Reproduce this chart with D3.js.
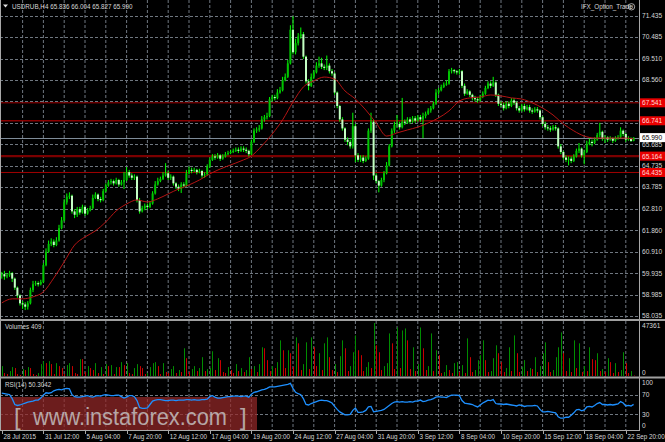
<!DOCTYPE html>
<html><head><meta charset="utf-8">
<script src="https://cdnjs.cloudflare.com/ajax/libs/d3/7.8.5/d3.min.js"></script>
<style>html,body{margin:0;padding:0;background:#000;overflow:hidden}svg{display:block}</style>
</head><body><svg id="c" width="665" height="442"></svg>
<script>
// ---------- DATA ----------
const symbolTitle = "USDRUB,H4 65.836 66.004 65.827 65.990";
const expertName = "IFX_Option_Trade";
const firstOpen = 59.85;
const closes = [
59.90,59.80,59.85,59.95,59.70,59.30,58.95,58.60,58.55,58.45,
58.60,59.20,59.45,59.50,59.45,59.55,60.30,60.90,61.25,61.35,
61.20,61.40,61.95,62.30,63.10,63.35,63.40,62.70,62.55,62.80,
62.65,62.90,62.60,62.75,62.85,63.30,63.45,63.25,63.20,63.60,
63.85,64.00,64.05,63.95,64.10,63.90,64.00,64.10,64.45,64.30,
64.20,64.25,63.20,62.70,62.85,62.95,62.90,63.05,63.50,63.90,
64.05,64.15,64.30,64.40,64.20,64.25,63.95,63.80,63.70,63.90,
63.85,64.40,64.55,64.50,64.55,64.45,64.50,64.30,64.35,64.70,
65.00,65.15,65.10,65.20,65.05,65.15,65.25,65.30,65.35,65.40,
65.45,65.40,65.50,65.45,65.40,65.25,65.80,66.30,66.35,66.40,
66.80,66.90,66.95,67.70,67.80,67.75,68.00,68.10,68.55,68.70,
69.30,70.80,69.80,70.20,70.50,70.60,69.60,68.50,68.30,68.70,
68.90,69.20,69.30,69.15,69.10,69.20,68.95,68.85,68.00,67.40,
66.80,66.40,65.90,65.80,65.60,66.50,65.20,65.00,65.10,64.95,
65.05,66.30,66.70,64.30,64.05,63.85,64.10,64.40,64.75,65.60,
66.30,66.55,66.60,66.45,66.70,66.65,66.80,66.70,66.85,66.75,
66.90,66.80,66.95,67.05,67.20,67.30,67.50,68.00,68.10,68.25,
68.35,68.40,68.95,69.00,68.95,68.90,68.95,68.30,67.95,68.05,
67.90,67.75,67.70,67.65,67.80,67.95,68.20,68.40,68.30,68.45,
67.90,67.50,67.45,67.30,67.50,67.40,67.65,67.55,67.30,67.20,
67.40,67.25,67.35,67.20,67.15,67.25,67.20,66.90,66.60,66.45,
66.40,66.35,66.45,66.40,65.60,65.35,65.10,65.00,65.05,64.95,
65.15,65.40,65.50,65.20,65.35,65.70,65.80,65.75,65.90,66.10,
66.25,65.95,66.00,65.90,65.95,65.85,65.95,66.00,66.30,66.15,
65.90,65.95,65.836,65.990];
const highs = [
60.00,60.05,59.95,60.05,60.00,59.75,59.35,59.00,58.70,58.65,
58.70,59.30,59.60,59.60,59.58,59.65,60.40,61.05,61.40,61.50,
61.45,61.55,62.10,62.45,63.25,63.50,63.55,63.45,62.80,62.90,
62.90,63.00,62.95,62.85,62.95,63.45,63.55,63.50,63.35,63.70,
63.95,64.10,64.15,64.12,64.20,64.15,64.10,64.45,64.68,64.55,
64.40,64.35,64.30,63.30,62.95,63.05,63.05,63.15,63.60,64.05,
64.20,64.25,64.45,64.85,64.50,64.35,64.30,64.00,63.90,64.00,
64.00,64.55,64.70,64.65,64.65,64.60,64.60,64.55,64.45,64.80,
65.10,65.25,65.25,65.30,65.25,65.25,65.35,65.40,65.45,65.50,
65.55,65.55,65.60,65.60,65.55,65.45,65.90,66.40,66.45,66.55,
66.95,67.00,67.10,67.80,67.90,67.90,68.15,68.25,68.70,68.85,
69.45,71.00,71.40,70.40,70.65,70.90,70.70,69.65,68.60,68.85,
69.00,69.35,69.60,69.55,69.25,69.65,69.30,69.05,68.90,68.05,
67.45,66.90,66.45,66.00,65.90,67.10,66.60,65.30,65.20,65.20,
65.15,66.40,67.10,66.80,64.40,64.10,64.20,64.50,64.90,65.70,
66.40,66.70,67.00,66.70,67.76,66.80,66.90,66.90,66.95,66.95,
67.00,67.00,67.10,67.15,67.30,67.40,67.60,68.15,68.20,68.35,
68.45,68.55,69.05,69.10,69.05,69.00,69.05,69.00,68.40,68.15,
68.10,67.95,67.85,67.80,67.90,68.05,68.30,68.50,68.50,68.70,
68.50,67.95,67.60,67.55,67.60,67.60,67.75,67.75,67.60,67.40,
67.50,67.50,67.45,67.45,67.30,67.35,67.35,67.25,66.95,66.70,
66.55,66.50,66.55,66.55,66.45,65.70,65.40,65.20,65.15,65.15,
65.25,65.50,65.75,65.55,65.45,65.85,65.95,65.90,66.00,66.20,
66.65,66.30,66.10,66.05,66.05,66.00,66.05,66.10,66.45,66.35,
66.20,66.05,66.00,66.004];
const lows = [
59.70,59.65,59.72,59.78,59.55,59.20,58.85,58.50,58.35,58.30,
58.32,58.55,59.10,59.38,59.35,59.40,59.50,60.25,60.85,61.15,
61.10,61.15,61.35,61.90,62.25,63.00,63.25,62.60,62.40,62.45,
62.55,62.60,62.50,62.55,62.70,62.80,63.25,63.15,63.10,63.15,
63.55,63.80,63.90,63.85,63.90,63.80,63.85,63.70,64.05,64.20,
64.10,64.10,63.10,62.60,62.65,62.75,62.80,62.85,63.00,63.45,
63.85,64.00,64.10,64.25,64.10,64.10,63.85,63.70,63.60,63.52,
63.75,63.80,64.35,64.40,64.45,64.35,64.40,64.20,64.20,64.30,
64.65,64.95,65.00,65.05,64.95,65.00,65.10,65.20,65.25,65.30,
65.35,65.30,65.35,65.35,65.30,65.15,65.20,65.75,66.20,66.25,
66.35,66.70,66.80,66.90,67.60,67.65,67.70,67.95,68.05,68.50,
68.65,69.25,69.70,69.70,70.10,70.40,69.50,68.40,68.10,68.25,
68.60,68.85,69.10,69.05,69.00,69.00,68.85,68.75,67.90,67.30,
66.70,66.30,65.80,65.65,65.50,65.50,64.90,64.90,64.90,64.85,
64.90,65.00,66.20,64.10,63.95,63.55,63.80,64.00,64.35,64.70,
65.55,66.20,66.45,66.35,66.40,66.55,66.60,66.60,66.65,66.65,
66.70,66.70,65.97,66.85,67.00,67.10,67.25,67.45,67.90,68.05,
68.20,68.30,68.35,68.85,68.85,68.80,68.80,68.20,67.85,67.90,
67.80,67.65,67.60,67.55,67.60,67.75,67.90,68.15,68.20,68.25,
67.80,67.40,67.35,67.20,67.25,67.30,67.35,67.45,67.20,67.10,
67.15,67.15,67.20,67.10,67.05,67.10,67.10,66.80,66.50,66.35,
66.30,66.25,66.30,66.30,65.50,65.25,65.00,64.90,64.75,64.85,
64.90,65.10,65.30,65.10,64.80,65.30,65.65,65.60,65.70,65.85,
66.00,65.85,65.75,65.80,65.85,65.75,65.80,65.90,65.95,66.05,
65.80,65.85,65.80,65.827];
const volumes = [
8850,2655,1770,4425,7965,7080,1770,885,6195,5310,
7965,7080,1770,885,2655,10620,13275,11505,13275,10620,
1770,11505,8850,7080,1770,9735,11505,8850,2655,1770,
15045,15045,3540,8850,7080,5310,11505,2655,7965,1770,
10620,8850,9735,1770,7965,7965,12390,9735,11505,2655,
1770,7080,10620,8850,7080,1770,2655,7965,11505,12390,
8850,1770,11505,3540,2655,6195,8850,2655,5310,3540,
24780,15930,3540,6195,8850,4425,7080,16815,4425,6195,
7080,22125,5310,15930,14160,3540,2655,7965,5310,2655,
10620,4425,7080,3540,5310,16815,6195,8850,3540,10620,
25665,24780,14160,4425,8850,7080,12390,31860,23010,7080,
23010,20355,7965,34515,29205,5310,10620,30090,6195,34515,
25665,8850,20355,5310,29205,34515,16815,5310,10620,3540,
17700,31860,24780,4425,8850,21240,36285,23010,18585,4425,
7965,12390,7080,47361,27435,21240,5310,8850,11505,38055,
29205,6195,43365,7080,40710,42480,31860,6195,25665,4425,
10620,43365,24780,5310,8850,38055,4425,23010,18585,2655,
3540,9735,5310,2655,11505,12390,3540,9735,2655,33630,
16815,3540,5310,14160,18585,31860,14160,3540,4425,15930,
27435,20355,12390,3540,7080,25665,4425,36285,20355,3540,
7965,14160,4425,7080,6195,16815,3540,8850,20355,30090,
12390,3540,5310,16815,25665,38940,20355,4425,15930,3540,
31860,7080,29205,3540,8850,4425,25665,15045,14160,20355,
4425,6195,3540,15930,12390,2655,11505,3540,5310,21240,
11505,2655,4425,409];
const rsiValues = [
73,72,71,70,62,50,48,49,51,53,
55,56,57,59,59,63,69,74,73,74,
78,80,81,80,82,83,82,70,66,65,
65,66,67,68,66,65,67,68,67,69,
70,69,68,68,69,69,66,63,65,68,
68,66,58,44,42,42,43,50,57,59,
60,60,59,58,58,59,59,58,59,59,
59,60,60,59,60,59,59,60,60,61,
66,68,65,63,63,64,65,66,66,67,
67,67,66,67,67,65,71,75,76,78,
80,81,83,86,86,86,87,88,89,90,
91,93,83,75,72,70,62,50,49,52,
54,56,58,59,58,58,56,53,46,40,
35,32,29,29,30,38,43,34,34,35,
38,45,46,35,36,37,38,40,44,48,
52,55,56,55,56,55,55,56,55,57,
57,59,56,57,59,60,62,65,66,65,
65,64,67,69,69,69,68,58,53,52,
51,50,47,45,49,53,56,59,58,60,
52,51,51,50,51,50,49,48,47,49,
48,46,47,47,47,48,47,40,35,35,
36,35,34,33,25,22,22,24,24,28,
33,39,40,37,39,45,46,45,48,52,
54,50,50,49,50,49,50,51,56,53,
47,48,47,50.3042];
const rsiLabel = "RSI(14) 50.3042";
// moving average, one value every 4th bar (last one is the final bar)
const maValues = [
58.62,58.80,58.80,58.89,59.11,59.73,60.45,61.20,61.56,61.83,
62.23,62.72,63.03,63.21,63.12,63.26,63.48,63.70,63.88,64.10,
64.37,64.59,64.77,64.95,65.17,65.62,66.15,66.78,67.58,68.25,
68.52,68.69,68.60,68.07,67.71,67.22,66.64,66.06,66.20,66.33,
66.46,66.64,66.87,67.18,67.62,67.76,67.80,67.89,67.85,67.76,
67.71,67.54,67.31,67.00,66.60,66.29,66.06,65.97,65.97,65.97,
65.97,65.93];
const priceTicks = [71.435,70.485,69.510,68.560,67.610,66.635,65.685,64.735,63.785,62.810,61.860,60.910,59.935,58.985,58.035];
const levelLines = [67.541,66.741,65.164,64.435];
const bidPrice = 65.990;
const volumeMax = 47361;
const rsiTicks = [100,70,30,0];
const rsiLevels = [70,30];
const dateLabels = ["28 Jul 2015","31 Jul 12:00","5 Aug 04:00","7 Aug 20:00","12 Aug 12:00","17 Aug 04:00","19 Aug 20:00","24 Aug 12:00","27 Aug 04:00","31 Aug 20:00","3 Sep 12:00","8 Sep 04:00","10 Sep 20:00","15 Sep 12:00","18 Sep 04:00","22 Sep 20:00"];
const barsPerLabel = 16;
const watermark = "www.instaforex.com";

// ---------- DRAWING ----------
const svg = d3.select("#c");
const FONT = "'Liberation Sans', Arial, sans-serif";
const AXX = 639.5;
const n = closes.length;
const opens = closes.map((c, i) => i === 0 ? firstOpen : closes[i - 1]);

const x = d3.scaleLinear().domain([0, 240]).range([1.8, 625.8]);
const yP = d3.scaleLinear().domain([58.035, 71.435]).range([316, 15.5]);
const yV = d3.scaleLinear().domain([0, volumeMax]).range([376, 323]);
const yR = d3.scaleLinear().domain([0, 100]).range([429, 380]);

svg.append("rect").attr("width", 665).attr("height", 442).attr("fill", "#000");

const defs = svg.append("defs");
defs.append("clipPath").attr("id", "cm").append("rect").attr("x", 0).attr("y", 0).attr("width", 639).attr("height", 319);
defs.append("clipPath").attr("id", "cv").append("rect").attr("x", 0).attr("y", 321).attr("width", 639).attr("height", 56);
defs.append("clipPath").attr("id", "cr").append("rect").attr("x", 0).attr("y", 379).attr("width", 639).attr("height", 51);

const gridColor = "#6f7780";
const gridBars = d3.range(8, 241, 8);
[[0, 319], [321, 377], [379, 430]].forEach(([y0, y1]) => {
  svg.append("g").selectAll("line").data(gridBars).join("line")
    .attr("x1", d => x(d)).attr("x2", d => x(d)).attr("y1", y0).attr("y2", y1)
    .attr("stroke", gridColor).attr("stroke-width", 1).attr("stroke-dasharray", "3,2");
});
svg.append("g").selectAll("line").data(priceTicks).join("line")
  .attr("x1", 0).attr("x2", AXX).attr("y1", d => Math.round(yP(d)) + 0.5).attr("y2", d => Math.round(yP(d)) + 0.5)
  .attr("stroke", gridColor).attr("stroke-dasharray", "3,2");
svg.append("g").selectAll("line").data(rsiLevels).join("line")
  .attr("x1", 0).attr("x2", AXX).attr("y1", d => Math.round(yR(d)) + 0.5).attr("y2", d => Math.round(yR(d)) + 0.5)
  .attr("stroke", gridColor).attr("stroke-dasharray", "3,2");

// horizontal level lines
const lvlStyle = [{c: "#a00000", w: 1}, {c: "#8a0000", w: 1.6}, {c: "#7a0000", w: 2.2}, {c: "#a00000", w: 1}];
const main = svg.append("g").attr("clip-path", "url(#cm)");
main.selectAll("line.lvl").data(levelLines).join("line").attr("class", "lvl")
  .attr("x1", 0).attr("x2", AXX).attr("y1", d => yP(d)).attr("y2", d => yP(d))
  .attr("stroke", (d, i) => lvlStyle[i].c).attr("stroke-width", (d, i) => lvlStyle[i].w);
main.append("line").attr("x1", 0).attr("x2", AXX).attr("y1", Math.round(yP(bidPrice)) + 0.5).attr("y2", Math.round(yP(bidPrice)) + 0.5)
  .attr("stroke", "#7f8c99").attr("stroke-width", 1);

// candles
const idx = d3.range(n);
main.append("g").selectAll("line").data(idx).join("line")
  .attr("x1", i => x(i)).attr("x2", i => x(i))
  .attr("y1", i => yP(Math.max(highs[i], opens[i], closes[i])))
  .attr("y2", i => yP(Math.min(lows[i], opens[i], closes[i])))
  .attr("stroke", "#00ff00").attr("stroke-width", 1);
main.append("g").selectAll("rect").data(idx).join("rect")
  .attr("x", i => x(i) - 1).attr("width", 2)
  .attr("y", i => yP(Math.max(opens[i], closes[i])))
  .attr("height", i => Math.max(1, Math.abs(yP(opens[i]) - yP(closes[i]))))
  .attr("fill", i => closes[i] >= opens[i] ? "#00c400" : "#c4ffc4");

// moving average
const maPts = maValues.map((v, k) => [Math.min(k * 4, n - 1), v]);
main.append("path").datum(maPts)
  .attr("d", d3.line().x(d => x(d[0])).y(d => yP(d[1])).curve(d3.curveMonotoneX))
  .attr("fill", "none").attr("stroke", "#b41414").attr("stroke-width", 1);

// volumes
const vol = svg.append("g").attr("clip-path", "url(#cv)");
vol.selectAll("line").data(idx).join("line")
  .attr("x1", i => Math.round(x(i)) + 0.5).attr("x2", i => Math.round(x(i)) + 0.5)
  .attr("y1", yV(0)).attr("y2", i => yV(volumes[i]))
  .attr("stroke", i => (i === 0 || volumes[i] > volumes[i - 1]) ? "#008c00" : "#c80000")
  .attr("stroke-width", 1);

// watermark box
svg.append("rect").attr("x", 0).attr("y", 397).attr("width", 257).attr("height", 33)
  .attr("fill", "#962828").attr("opacity", 0.72);

// RSI line
const rsiG = svg.append("g").attr("clip-path", "url(#cr)");
rsiG.append("path").datum(idx)
  .attr("d", d3.line().x(i => x(i)).y(i => yR(rsiValues[i])))
  .attr("fill", "none").attr("stroke", "#1e90ff").attr("stroke-width", 1.3);

// watermark text
const wm = svg.append("g").attr("fill", "#c8c8c8").attr("opacity", 0.8).style("font-family", FONT);
wm.append("text").attr("x", 33).attr("y", 425).attr("font-size", 23)
  .attr("textLength", 194).attr("lengthAdjust", "spacingAndGlyphs").text(watermark);
wm.append("text").attr("x", 14).attr("y", 424.5).attr("font-size", 24).attr("font-weight", 300).text("[");
wm.append("text").attr("x", 240).attr("y", 424.5).attr("font-size", 24).attr("font-weight", 300).text("]");

// frames / separators
const frame = "#a8a8a8";
svg.append("line").attr("x1", 0.5).attr("x2", 0.5).attr("y1", 0).attr("y2", 431).attr("stroke", frame);
svg.append("line").attr("x1", AXX).attr("x2", AXX).attr("y1", 0).attr("y2", 431).attr("stroke", frame);
svg.append("line").attr("x1", 0).attr("x2", AXX).attr("y1", 430.5).attr("y2", 430.5).attr("stroke", frame);
[320, 377.5].forEach(y => svg.append("rect").attr("x", 0).attr("y", y - 1).attr("width", 665).attr("height", 2).attr("fill", "#a0a0a0"));

// axis texts
const txt = "#d6d6d6";
const axisFont = 6.6;
const markerYs = levelLines.concat([bidPrice]).map(v => yP(v));
svg.append("g").selectAll("text").data(priceTicks.filter(p => markerYs.every(my => Math.abs(yP(p) - my) > 6))).join("text")
  .attr("x", 642).attr("y", d => yP(d) + 2.4).attr("fill", txt).attr("font-size", axisFont).style("font-family", FONT)
  .text(d => d.toFixed(3));
const lvlG = svg.append("g").selectAll("g").data(levelLines).join("g");
lvlG.append("rect").attr("x", 640).attr("y", d => yP(d) - 4.5).attr("width", 25).attr("height", 9).attr("fill", "#e80000");
lvlG.append("text").attr("x", 642).attr("y", d => yP(d) + 2.4).attr("fill", "#ffd8d8").attr("font-size", axisFont)
  .style("font-family", FONT).text(d => d.toFixed(3));
svg.append("rect").attr("x", 640).attr("y", yP(bidPrice) - 4.5).attr("width", 25).attr("height", 9).attr("fill", "#ffffff");
svg.append("text").attr("x", 642).attr("y", yP(bidPrice) + 2.4).attr("fill", "#000").attr("font-size", axisFont)
  .style("font-family", FONT).text(bidPrice.toFixed(3));
svg.append("text").attr("x", 642).attr("y", 327.5).attr("fill", txt).attr("font-size", axisFont).style("font-family", FONT).text(String(volumeMax));
svg.append("text").attr("x", 642).attr("y", 374.5).attr("fill", txt).attr("font-size", axisFont).style("font-family", FONT).text("0");
const rsiLabY = {100: 385, 70: 397, 30: 416.5, 0: 428.3};
svg.append("g").selectAll("text").data(rsiTicks).join("text")
  .attr("x", 642).attr("y", d => rsiLabY[d]).attr("fill", txt).attr("font-size", axisFont).style("font-family", FONT).text(d => d);

// date axis
const dG = svg.append("g").selectAll("g").data(dateLabels).join("g");
dG.append("line").attr("x1", (d, k) => Math.round(x(k * barsPerLabel)) + 0.5).attr("x2", (d, k) => Math.round(x(k * barsPerLabel)) + 0.5)
  .attr("y1", 431).attr("y2", 434).attr("stroke", frame);
dG.append("text").attr("x", (d, k) => x(k * barsPerLabel) + 1.6).attr("y", 439.3).attr("fill", txt)
  .attr("font-size", 6.3).style("font-family", FONT).text(d => d);

// pane labels
svg.append("polygon").attr("points", "3,4.5 8,4.5 5.5,7.5").attr("fill", "#e0e0e0");
svg.append("text").attr("x", 12).attr("y", 8.8).attr("fill", txt).attr("font-size", 6.3).style("font-family", FONT).text(symbolTitle);
svg.append("text").attr("x", 5).attr("y", 328.5).attr("fill", txt).attr("font-size", 6.3).style("font-family", FONT).text("Volumes " + volumes[n - 1]);
svg.append("text").attr("x", 5).attr("y", 386.8).attr("fill", txt).attr("font-size", 6.3).style("font-family", FONT).text(rsiLabel);
svg.append("text").attr("x", 581).attr("y", 9.3).attr("fill", txt).attr("font-size", 6.3).style("font-family", FONT).text(expertName);
const sm = svg.append("g").attr("transform", "translate(631.5,6.8)");
sm.append("circle").attr("r", 3.2).attr("fill", "none").attr("stroke", "#d0d0d0").attr("stroke-width", 0.8);
sm.append("path").attr("d", "M-1.6,0.6 Q0,2.4 1.6,0.6").attr("fill", "none").attr("stroke", "#d0d0d0").attr("stroke-width", 0.7);
sm.append("circle").attr("cx", -1.1).attr("cy", -0.9).attr("r", 0.5).attr("fill", "#d0d0d0");
sm.append("circle").attr("cx", 1.1).attr("cy", -0.9).attr("r", 0.5).attr("fill", "#d0d0d0");
</script>
</body></html>
